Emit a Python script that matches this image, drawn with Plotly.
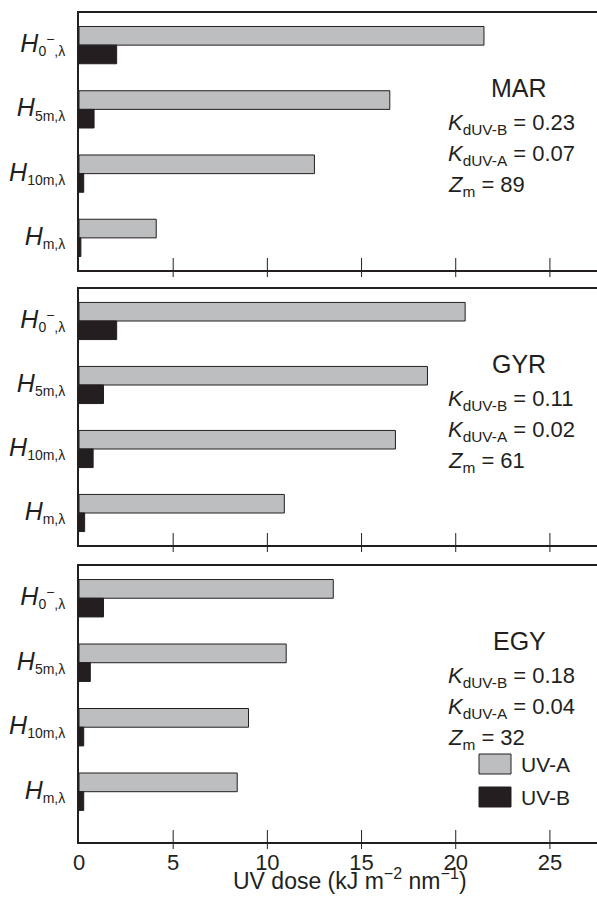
import plotly.graph_objects as go

# ---------------- data ----------------
categories = ["H0", "H5m", "H10m", "Hm"]
HSPAN = "<i><span style='font-size:25px'>H</span></i>"
cat_labels = [
    HSPAN + "<sub>0</sub><sup>−</sup><sub>,λ</sub>",
    HSPAN + "<sub>5m,λ</sub>",
    HSPAN + "<sub>10m,λ</sub>",
    HSPAN + "<sub>m,λ</sub>",
]
sites = ["MAR", "GYR", "EGY"]
uva_mar = [21.5, 16.5, 12.5, 4.1]
uvb_mar = [2.0, 0.8, 0.25, 0.1]
uva_gyr = [20.5, 18.5, 16.8, 10.9]
uvb_gyr = [2.0, 1.3, 0.75, 0.3]
uva_egy = [13.5, 11.0, 9.0, 8.4]
uvb_egy = [1.3, 0.6, 0.25, 0.25]
kd_uvb = ["0.23", "0.11", "0.18"]
kd_uva = ["0.07", "0.02", "0.04"]
zm = ["89", "61", "32"]
x_ticks = [0, 5, 10, 15, 20, 25]
series_names = ["UV-A", "UV-B"]
x_title = "UV dose (kJ m<sup>−2</sup> nm<sup>−1</sup>)"

# ---------------- style ----------------
W, H = 597, 897
ML, MR, MT, MB = 79, 0, 13, 55
PW, PH = W - ML - MR, H - MT - MB
GREY = "#bcbec0"
DARK = "#231f20"
FONT = "Liberation Sans, Arial, Helvetica, sans-serif"

def py(y):  # pixel y -> paper
    return (H - MB - y) / PH

def px(x):  # pixel x -> paper
    return (x - ML) / PW

panels_px = [(13, 270), (289, 545), (566, H - MB)]
yranges = [[3.5, -0.5], [3.5, -0.5], [3.78, -0.5]]
uva_all = [uva_mar, uva_gyr, uva_egy]
uvb_all = [uvb_mar, uvb_gyr, uvb_egy]

fig = go.Figure()
layout = dict(
    width=W, height=H,
    margin=dict(l=ML, r=MR, t=MT, b=MB, autoexpand=False),
    paper_bgcolor="white", plot_bgcolor="white",
    barmode="group", bargap=0.42, bargroupgap=0.0,
    showlegend=False,
    font=dict(family=FONT, color=DARK, size=20),
)
shapes = []
annotations = []

for i in range(3):
    k = "" if i == 0 else str(i + 1)
    fig.add_trace(go.Bar(
        y=categories, x=uva_all[i], orientation="h", name=series_names[0],
        marker=dict(color=GREY, line=dict(color=DARK, width=1)),
        xaxis="x" + k, yaxis="y" + k,
    ))
    fig.add_trace(go.Bar(
        y=categories, x=uvb_all[i], orientation="h", name=series_names[1],
        marker=dict(color=DARK, line=dict(color=DARK, width=1)),
        xaxis="x" + k, yaxis="y" + k,
    ))
    top, bot = panels_px[i]
    layout["xaxis" + k] = dict(
        domain=[0, 1], anchor="y" + k, range=[0, 27.5], automargin=False,
        showline=True, linecolor=DARK, linewidth=1.5, mirror=True,
        showgrid=False, zeroline=False, ticks="",
        tickmode="array", tickvals=x_ticks,
        showticklabels=(i == 2), ticklabelstandoff=0,
        tickfont=dict(size=22, family=FONT, color=DARK),
    )
    layout["yaxis" + k] = dict(
        domain=[py(bot), py(top)], anchor="x" + k, automargin=False,
        type="category", categoryorder="array", categoryarray=categories,
        range=yranges[i],
        showline=True, linecolor=DARK, linewidth=1.5, mirror=False,
        showgrid=False, zeroline=False, ticks="",
        tickmode="array", tickvals=categories, ticktext=cat_labels,
        ticklabelstandoff=8,
        tickfont=dict(size=20, family=FONT, color=DARK),
    )
    hpx = bot - top
    for t in x_ticks[1:]:
        shapes.append(dict(type="line", xref="x" + k, yref="y" + k + " domain",
                           x0=t, x1=t, y0=-7 / hpx, y1=12 / hpx,
                           line=dict(color=DARK, width=1)))
    # text block
    name_y = top + 75
    annotations.append(dict(xref="paper", yref="paper", x=px(519), y=py(name_y),
                            text=sites[i], showarrow=False, xanchor="center", yanchor="middle",
                            font=dict(size=25, family=FONT, color=DARK)))
    lines = [
        "<i>K</i><sub>dUV-B</sub> = " + kd_uvb[i],
        "<i>K</i><sub>dUV-A</sub> = " + kd_uva[i],
        "<i>Z</i><sub>m</sub> = " + zm[i],
    ]
    for j, txt in enumerate(lines):
        annotations.append(dict(xref="paper", yref="paper", x=px(446), y=py(name_y + 36 + 31 * j),
                                text=txt, showarrow=False, xanchor="left", yanchor="middle",
                                font=dict(size=22, family=FONT, color=DARK)))

# x axis title
annotations.append(dict(xref="paper", yref="paper", x=px(350), y=py(896),
                        text=x_title, showarrow=False, xanchor="center", yanchor="bottom",
                        font=dict(size=23, family=FONT, color=DARK)))

# legend (drawn manually in the bottom panel)
leg_items = [(series_names[0], GREY, 764), (series_names[1], DARK, 797)]
for name, col, cy in leg_items:
    shapes.append(dict(type="rect", xref="paper", yref="paper",
                       x0=px(479), x1=px(511), y0=py(cy + 10), y1=py(cy - 10),
                       fillcolor=col, line=dict(color=DARK, width=1)))
    annotations.append(dict(xref="paper", yref="paper", x=px(519), y=py(cy),
                            text=name, showarrow=False, xanchor="left", yanchor="middle",
                            font=dict(size=21, family=FONT, color=DARK)))

layout["shapes"] = shapes
layout["annotations"] = annotations
fig.update_layout(**layout)
fig.write_html("out.html", config={"displayModeBar": False},
               post_script="document.body.style.margin='0px';document.body.style.overflow='hidden';")
